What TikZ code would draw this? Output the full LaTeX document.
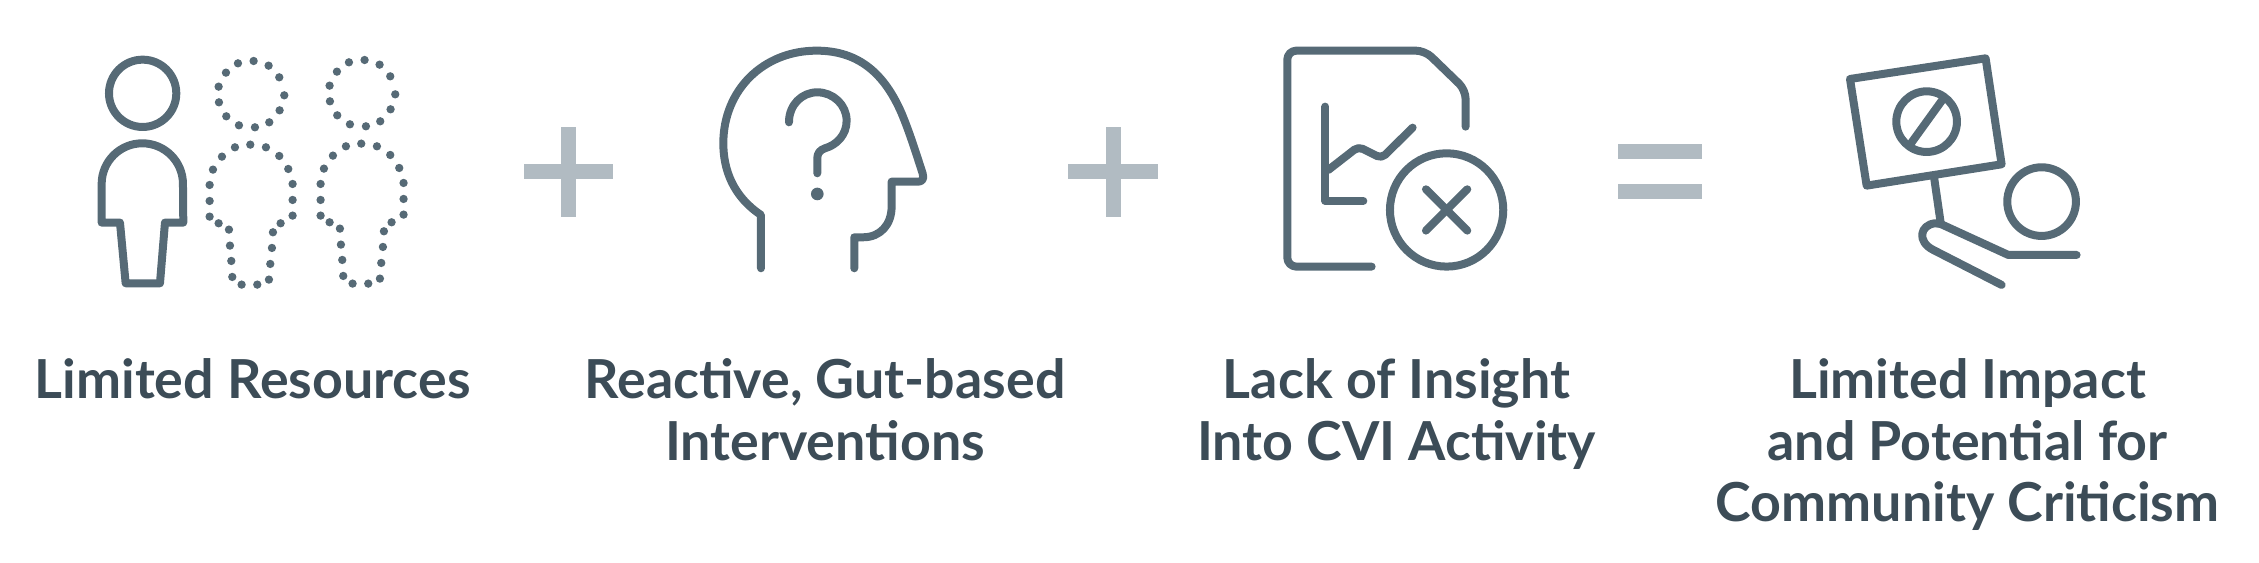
\documentclass[tikz,border=0pt]{standalone}
\usepackage{fontspec}
\setmainfont{Lato}
\usepackage{color}
\usetikzlibrary{arrows}
\definecolor{iconcolor}{HTML}{566A76}
\definecolor{signcolor}{HTML}{B1BBC2}
\definecolor{labelcolor}{HTML}{3C4C57}
\newcommand{\iconline}{0.8mm}
\newcommand{\labelsize}{\fontsize{15.3}{17.6}\selectfont\bfseries}

\begin{document}
\begin{tikzpicture}
            \tikzset{zoomed/.style = {x=0.03333mm, y=-0.03333mm}}
            \tikzset{iconpath/.style = {draw=iconcolor, line width=\iconline, line cap=round, line join=round}}
            \tikzset{signbar/.style = {fill=signcolor, draw=none}}
            \tikzset{caption/.style = {text=labelcolor, font=\labelsize, align=center, anchor=north, inner sep=0pt}}
            \useasboundingbox (0,0) rectangle (22.59,-5.63);
            \begin{scope}[shift={(0.6,-0.3)}, zoomed]
                \draw[iconpath] (248,190) circle (101);
                \draw[iconpath] (125,578) -- (125,462) arc (180:360:122) -- (370,578) -- (315,578) -- (300,760) -- (197,760) -- (180,578) -- cycle;
                \foreach \dx/\dy in {0/0, 333/-3}{
                    \foreach \px/\py in {581/93, 626/107, 658/142, 673/196, 659/241, 628/277, 585/292, 537/286, 499/259, 477/217, 476/170, 498/128, 534/100,
                        571/344, 618/352, 658/378, 685/417, 698/462, 698/510, 698/557, 662/580, 639/607, 636/654, 631/702, 627/749, 592/764, 545/764,
                        517/741, 514/693, 510/647, 507/599, 476/580, 449/560, 449/513, 449/465, 459/419, 486/380, 525/352}{
                        \fill[iconcolor] (\px+\dx,\py+\dy) circle (12.5);
                    }
                }
            \end{scope}
            \fill[signbar] (5.24,-1.643) rectangle (6.127,-1.793);
            \fill[signbar] (5.61,-1.273) rectangle (5.76,-2.167);
            \begin{scope}[shift={(6.9,-0.3)}, zoomed]
                \draw[iconpath] (213,715) -- (213,555) .. controls (130,500) and (100,420) .. (100,340)
                    .. controls (100,180) and (220,62) .. (380,62)
                    .. controls (510,62) and (585,135) .. (635,250)
                    .. controls (660,310) and (680,375) .. (698,430)
                    .. controls (704,448) and (695,455) .. (685,455) -- (605,455) -- (605,530)
                    .. controls (605,585) and (570,622) .. (520,622) -- (493,622) -- (493,715);
                \draw[iconpath] (297,277) .. controls (297,225) and (335,187) .. (382,187)
                    .. controls (430,187) and (470,225) .. (470,272)
                    .. controls (470,315) and (440,345) .. (405,355)
                    .. controls (390,360) and (382,370) .. (382,385) -- (382,430);
                \fill[iconcolor] (382,492) circle (19);
            \end{scope}
            \fill[signbar] (10.683,-1.643) rectangle (11.583,-1.793);
            \fill[signbar] (11.057,-1.273) rectangle (11.207,-2.167);
            \begin{scope}[shift={(12.5,-0.3)}, zoomed]
                \draw[iconpath, rounded corners=0.9mm] (365,710) -- (112,710) -- (112,62) -- (525,62) -- (647,180) -- (647,290);
                \draw[iconpath] (226,230) -- (226,513) -- (340,513);
                \draw[iconpath, rounded corners=0.5mm] (235,420) -- (325,350) -- (395,385) -- (488,293);
                \draw[iconpath] (590,540) circle (170);
                \draw[iconpath] (528,478) -- (652,602);
                \draw[iconpath] (652,478) -- (528,602);
            \end{scope}
            \fill[signbar] (16.183,-1.443) rectangle (17.017,-1.593);
            \fill[signbar] (16.183,-1.843) rectangle (17.017,-1.993);
            \begin{scope}[shift={(18.2,-0.3)}, zoomed]
                \draw[iconpath] (90,147) -- (497,85) -- (545,403) -- (140,467) -- cycle;
                \draw[iconpath] (320,275) circle (91);
                \draw[iconpath] (268,347) -- (372,203);
                \draw[iconpath] (342,440) -- (362,578);
                \draw[iconpath] (665,515) circle (103);
                \draw[iconpath] (770,675) -- (565,675) -- (362,582) -- (345,580) .. controls (300,585) and (290,635) .. (340,660) -- (545,765);
            \end{scope}
            \node[caption] (resources) at (2.527,-3.575) {Limited Resources};
            \node[caption] (reactive) at (8.25,-3.575) {Reactive, Gut-based\\Interventions};
            \node[caption] (insight) at (13.965,-3.575) {Lack of Insight\\Into CVI Activity};
            \node[caption] (impact) at (19.675,-3.575) {Limited Impact\\and Potential for\\Community Criticism};
\end{tikzpicture}
\end{document}
